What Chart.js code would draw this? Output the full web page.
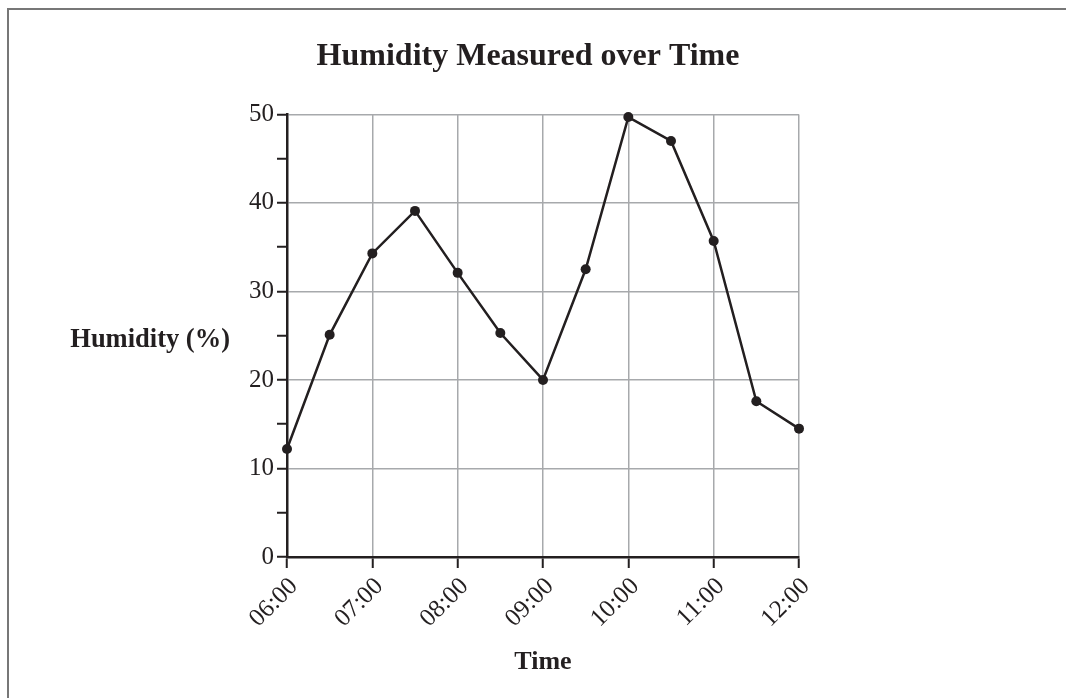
<!DOCTYPE html>
<html>
<head>
<meta charset="utf-8">
<title>Humidity Measured over Time</title>
<script src="https://cdn.jsdelivr.net/npm/chart.js@4.4.1/dist/chart.umd.min.js"></script>
<style>
    html, body { margin: 0; padding: 0; background: #fff; }
    #wrap { position: relative; width: 1066px; height: 698px; overflow: hidden; }
    #frame { position: absolute; left: 7px; top: 8px; width: 1100px; height: 720px;
             border-top: 2px solid #777; border-left: 2px solid #777; }
    #chart { position: absolute; left: 0; top: 0; }
</style>
</head>
<body>
<div id="wrap">
    <div id="frame"></div>
    <canvas id="chart" width="1066" height="698"></canvas>
</div>
<script>
const times = ['06:00', '06:30', '07:00', '07:30', '08:00', '08:30', '09:00',
               '09:30', '10:00', '10:30', '11:00', '11:30', '12:00'];
const humidity = [12.2, 25.1, 34.3, 39.1, 32.1, 25.3, 20.0, 32.5, 49.7, 47.0, 35.7, 17.6, 14.5];
const yTicks = [0, 10, 20, 30, 40, 50];

const ink = '#231f20';
const serif = "'Liberation Serif', 'Times New Roman', serif";

function toHours(t) {
    const parts = t.split(':');
    return Number(parts[0]) + Number(parts[1]) / 60;
}

function hourLabel(v) {
    const h = Math.round(v);
    return (h < 10 ? '0' : '') + h + ':00';
}

const points = times.map((t, i) => ({ x: toHours(t), y: humidity[i] }));

// y axis title is written horizontally to the left of the axis
const yTitlePlugin = {
    id: 'yTitle',
    afterDraw(chart) {
        const ctx = chart.ctx;
        const area = chart.chartArea;
        ctx.save();
        ctx.font = "bold 26.5px " + serif;
        ctx.fillStyle = ink;
        ctx.textAlign = 'right';
        ctx.textBaseline = 'middle';
        ctx.fillText('Humidity (%)', area.left - 57, (area.top + area.bottom) / 2 + 4);
        ctx.restore();
    }
};

const ctx = document.getElementById('chart').getContext('2d');
new Chart(ctx, {
    type: 'line',
    data: {
        datasets: [{
            label: 'Humidity',
            data: points,
            borderColor: ink,
            backgroundColor: ink,
            borderWidth: 2.5,
            pointRadius: 5,
            pointBackgroundColor: ink,
            pointBorderWidth: 0,
            tension: 0,
            fill: false,
            clip: 10
        }]
    },
    options: {
        responsive: false,
        animation: false,
        layout: {
            padding: { left: 243, right: 253, top: 0, bottom: 0 }
        },
        scales: {
            x: {
                type: 'linear',
                min: toHours(times[0]),
                max: toHours(times[times.length - 1]),
                afterFit(scale) { scale.height = 141; },
                ticks: {
                    stepSize: 1,
                    maxRotation: 45,
                    minRotation: 45,
                    padding: 4,
                    labelOffset: 7,
                    color: ink,
                    font: { family: serif, size: 25 },
                    callback: (v) => hourLabel(v)
                },
                grid: {
                    color: '#a7a9ac',
                    lineWidth: 1.5,
                    tickColor: ink,
                    tickWidth: 2,
                    tickLength: 11
                },
                border: { color: ink, width: 2.5 },
                title: {
                    display: true,
                    text: 'Time',
                    color: ink,
                    font: { family: serif, size: 26, weight: 'bold' },
                    padding: { top: 0, bottom: 20 }
                }
            },
            y: {
                min: yTicks[0],
                max: yTicks[yTicks.length - 1],
                afterFit(scale) { scale.width = 44; },
                ticks: {
                    stepSize: 5,
                    padding: 3,
                    color: ink,
                    font: { family: serif, size: 25 },
                    callback: (v) => yTicks.includes(v) ? v : ''
                },
                grid: {
                    color: (c) => (c.tick && c.tick.value % 10 === 0) ? '#a7a9ac' : 'rgba(0,0,0,0)',
                    lineWidth: 1.5,
                    tickColor: ink,
                    tickWidth: 2,
                    tickLength: 10
                },
                border: { color: ink, width: 2.5 }
            },
            // empty right-hand spacer so the title sits where the original has it
            spacer: {
                type: 'linear',
                position: 'right',
                afterFit(scale) { scale.width = 14; },
                ticks: { display: false },
                grid: { display: false },
                border: { display: false }
            }
        },
        plugins: {
            legend: { display: false },
            tooltip: { enabled: false },
            title: {
                display: true,
                text: 'Humidity Measured over Time',
                color: ink,
                font: { family: serif, size: 32, weight: 'bold' },
                padding: { top: 38, bottom: 38 }
            }
        }
    },
    plugins: [yTitlePlugin]
});
</script>
</body>
</html>
